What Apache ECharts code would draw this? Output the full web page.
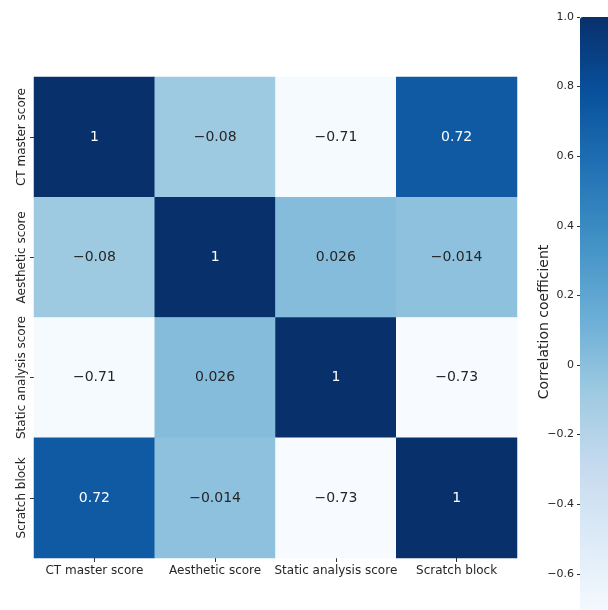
<!DOCTYPE html>
<html><head><meta charset="utf-8">
<script src="https://cdn.jsdelivr.net/npm/echarts@6/dist/echarts.min.js"></script>
<style>html,body{margin:0;padding:0;background:#fff}#c{width:608px;height:610px}</style>
</head><body><div id="c"></div>
<script>
const categories = ['CT master score', 'Aesthetic score', 'Static analysis score', 'Scratch block'];
const matrix = [
  [1, -0.08, -0.71, 0.72],
  [-0.08, 1, 0.026, -0.014],
  [-0.71, 0.026, 1, -0.73],
  [0.72, -0.014, -0.73, 1]
];
const colorbarMin = -0.73;
const colorbarMax = 1.0;
const colorbarAxisMin = -0.8;
const colorbarInterval = 0.2;
const colorbarTitle = 'Correlation coefficient';
const blues = ['#f7fbff', '#deebf7', '#c6dbef', '#9ecae1', '#6baed6', '#4292c6', '#2171b5', '#08519c', '#08306b'];

const FONT = 'DejaVu Sans';
const minus = s => s.replace('-', '\u2212');
const data = [];
matrix.forEach((row, r) => row.forEach((v, c) => data.push([c, r, v])));

const chart = echarts.init(document.getElementById('c'));
chart.setOption({
  animation: false,
  backgroundColor: '#fff',
  grid: [
    { left: 34, top: 77, width: 483, height: 481, outerBoundsMode: 'none', containLabel: false },
    { left: 580, top: 17, width: 30, height: 626.4, outerBoundsMode: 'none', containLabel: false }
  ],
  xAxis: [
    { type: 'category', data: categories, gridIndex: 0,
      axisLine: { show: false },
      axisTick: { show: true, alignWithLabel: true, length: 4, lineStyle: { color: '#333' } },
      axisLabel: { margin: 7, fontFamily: FONT, fontSize: 12, color: '#262626', interval: 0 },
      splitLine: { show: false } },
    { type: 'value', gridIndex: 1, show: false, min: 0, max: 1 }
  ],
  yAxis: [
    { type: 'category', data: categories, gridIndex: 0, inverse: true,
      axisLine: { show: false },
      axisTick: { show: true, alignWithLabel: true, length: 4, lineStyle: { color: '#333' } },
      axisLabel: { rotate: 90, margin: 6, fontFamily: FONT, fontSize: 12, color: '#262626', interval: 0 },
      splitLine: { show: false } },
    { type: 'value', gridIndex: 1, position: 'left', min: colorbarAxisMin, max: colorbarMax, interval: colorbarInterval,
      axisLine: { show: false },
      axisTick: { show: true, length: 3, lineStyle: { color: '#333' } },
      splitLine: { show: false },
      axisLabel: { margin: 6, fontFamily: FONT, fontSize: 11, color: '#262626',
        formatter: v => Math.abs(v) < 1e-9 ? '0' : (Math.abs(v - 1) < 1e-9 ? '1.0' : minus(v.toFixed(1))) } }
  ],
  graphic: [{
    type: 'text', x: 544, y: 322, rotation: Math.PI / 2,
    style: { text: colorbarTitle, fontFamily: FONT, fontSize: 14, fill: '#262626', align: 'center', verticalAlign: 'middle' }
  }],
  visualMap: {
    type: 'continuous', min: colorbarMin, max: colorbarMax, seriesIndex: 0,
    orient: 'vertical', left: 580, top: 17, itemWidth: 30, itemHeight: 602, padding: 0,
    calculable: false, hoverLink: false, showLabel: false, text: null,
    inRange: { color: blues }
  },
  series: [{
    type: 'heatmap', xAxisIndex: 0, yAxisIndex: 0,
    data: data.map(d => ({ value: d, label: { color: d[2] > 0.5 ? '#ffffff' : '#262626' } })),
    label: { show: true, fontFamily: FONT, fontSize: 14,
      formatter: p => minus(String(p.value[2])) },
    itemStyle: { borderWidth: 0 },
    emphasis: { disabled: true }
  }]
});
</script></body></html>
